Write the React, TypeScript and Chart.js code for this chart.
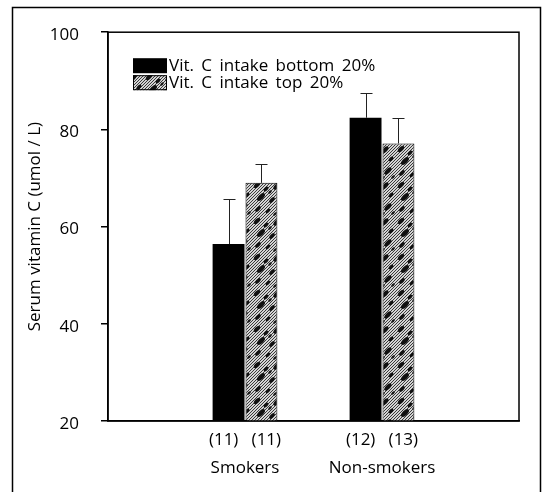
import React, { useEffect, useRef } from 'react';
import { Chart, registerables } from 'chart.js';

Chart.register(...registerables);

// ---- data ----
const categories = ['Smokers', 'Non-smokers'];
const sampleSizesBottom = [11, 12];
const sampleSizesTop = [11, 13];
const seriesLabels = ['Vit. C intake bottom 20%', 'Vit. C intake top 20%'];
const bottomMeans = [56.4, 82.4];
const bottomErrors = [9.3, 5.0];
const topMeans = [69.0, 77.1];
const topErrors = [3.8, 5.2];
const yMin = 20;
const yMax = 100;
const yStep = 20;
const yTitle = 'Serum vitamin C (umol / L)';

const FONT = '"Open Sans", "DejaVu Sans", sans-serif';

// texture blotches for the hatched fill (x, y, rx, ry) inside a 36x36 tile
const hatchBlobs: [number, number, number, number][] = [
  [5, 5, 4, 2],
  [14, 9, 3, 1.6],
  [25, 6, 4.5, 2.2],
  [31, 15, 3, 1.6],
  [9, 17, 5, 2.4],
  [20, 20, 3.5, 1.8],
  [28, 27, 4.5, 2.2],
  [6, 29, 3.5, 1.8],
  [16, 31, 3, 1.5],
  [18, 12, 2, 1.2],
  [33, 33, 2.2, 1.2],
  [23, 34, 2, 1.1],
];

function makeHatch(ctx: CanvasRenderingContext2D): CanvasPattern | string {
  const S = 36;
  const c = document.createElement('canvas');
  c.width = S;
  c.height = S;
  const g = c.getContext('2d');
  if (!g) return '#888';
  g.fillStyle = '#d4d4d4';
  g.fillRect(0, 0, S, S);
  g.strokeStyle = '#3a3a3a';
  g.lineWidth = 1;
  for (let k = -S; k < 2 * S; k += 3) {
    g.beginPath();
    g.moveTo(k, S);
    g.lineTo(k + S, 0);
    g.stroke();
  }
  g.fillStyle = '#111';
  for (const [x, y, rx, ry] of hatchBlobs) {
    g.beginPath();
    g.ellipse(x, y, rx, ry, -Math.PI / 4, 0, Math.PI * 2);
    g.fill();
  }
  return ctx.createPattern(c, 'repeat') || '#888';
}

export default function App() {
  const ref = useRef<HTMLCanvasElement | null>(null);

  useEffect(() => {
    const canvas = ref.current;
    if (!canvas) return;
    const ctx0 = canvas.getContext('2d') as CanvasRenderingContext2D;
    const hatch = makeHatch(ctx0);

    const labels = ['', ...categories, ''];
    const tickLines: string[][] = [
      [''],
      ...categories.map((c, i) => [`(${sampleSizesBottom[i]})   (${sampleSizesTop[i]})`, c]),
      [''],
    ];
    const errorSets = [bottomErrors, topErrors];

    const decor = {
      id: 'decor',
      afterDatasetsDraw(chart: any) {
        const { ctx, scales } = chart;
        const y = scales.y;
        chart.data.datasets.forEach((ds: any, di: number) => {
          const meta = chart.getDatasetMeta(di);
          meta.data.forEach((el: any, i: number) => {
            const v = ds.data[i];
            const e = errorSets[di][i - 1];
            if (v == null || e == null) return;
            const yt = Math.round(y.getPixelForValue(v + e)) + 0.5;
            const xc = Math.round(el.x) + 0.5;
            ctx.save();
            ctx.strokeStyle = '#222';
            ctx.lineWidth = 1;
            ctx.beginPath();
            ctx.moveTo(xc, el.y);
            ctx.lineTo(xc, yt);
            ctx.moveTo(xc - 6, yt);
            ctx.lineTo(xc + 6, yt);
            ctx.stroke();
            ctx.restore();
          });
        });
      },
      afterDraw(chart: any) {
        const { ctx, chartArea: ca } = chart;
        ctx.save();
        ctx.strokeStyle = '#000';
        ctx.lineWidth = 1.5;
        ctx.strokeRect(ca.left, ca.top, ca.right - ca.left, ca.bottom - ca.top);
        ctx.beginPath();
        ctx.moveTo(12.5, 492);
        ctx.lineTo(12.5, 7.5);
        ctx.lineTo(540.5, 7.5);
        ctx.lineTo(540.5, 492);
        ctx.stroke();
        ctx.font = `17px ${FONT}`;
        ctx.textBaseline = 'middle';
        ctx.textAlign = 'left';
        try { (ctx as any).wordSpacing = '3px'; } catch (e) {}
        const bx = ca.left + 25;
        const by = ca.top + 26;
        chart.data.datasets.forEach((ds: any, i: number) => {
          const top = by + i * 17;
          ctx.fillStyle = ds.backgroundColor;
          ctx.fillRect(bx, top, 34, 15);
          if (i === 1) {
            ctx.strokeStyle = '#000';
            ctx.lineWidth = 1;
            ctx.strokeRect(bx + 0.5, top + 0.5, 33, 14);
          }
          ctx.fillStyle = '#000';
          ctx.fillText(ds.label, bx + 36, top + 8);
        });
        ctx.restore();
      },
    };

    const chart = new Chart(canvas, {
      type: 'bar',
      data: {
        labels,
        datasets: [
          {
            label: seriesLabels[0],
            data: [null, ...bottomMeans, null],
            backgroundColor: '#000',
            borderWidth: 0,
          },
          {
            label: seriesLabels[1],
            data: [null, ...topMeans, null],
            backgroundColor: hatch as any,
            borderColor: '#000',
            borderWidth: 1,
          },
        ],
      },
      options: {
        responsive: false,
        animation: false,
        events: [],
        layout: { padding: { left: 0, top: 26, right: 29, bottom: 0 } },
        datasets: {
          bar: { categoryPercentage: 0.48, barPercentage: 0.97 },
        },
        plugins: {
          legend: { display: false },
          tooltip: { enabled: false },
        },
        scales: {
          x: {
            type: 'category',
            offset: false,
            grid: { display: false, drawTicks: false, tickLength: 0 },
            border: { display: true, color: '#000', width: 1.5 },
            afterFit: (s: any) => { s.height = 71; },
            ticks: {
              autoSkip: false,
              maxRotation: 0,
              padding: 6,
              color: '#000',
              font: { family: FONT, size: 17, lineHeight: 1.6 },
              callback: (_v: any, i: number) => tickLines[i],
            },
          },
          y: {
            min: yMin,
            max: yMax,
            afterFit: (s: any) => { s.width = 108; },
            grid: { display: true, drawOnChartArea: false, drawTicks: true, tickLength: 7, color: '#000', lineWidth: 1.5 },
            border: { display: true, color: '#000', width: 1.5 },
            ticks: {
              stepSize: yStep,
              padding: 22,
              labelOffset: 3,
              color: '#000',
              font: { family: FONT, size: 17 },
            },
            title: {
              display: true,
              text: yTitle,
              color: '#000',
              font: { family: FONT, size: 17 },
              padding: { top: 25, bottom: 0 },
            },
          },
        },
      },
      plugins: [decor],
    });

    return () => chart.destroy();
  }, []);

  return (
    <div style={{ position: 'fixed', left: 0, top: 0, width: 548, height: 492, background: '#fff' }}>
      <canvas ref={ref} width={548} height={492} />
    </div>
  );
}
